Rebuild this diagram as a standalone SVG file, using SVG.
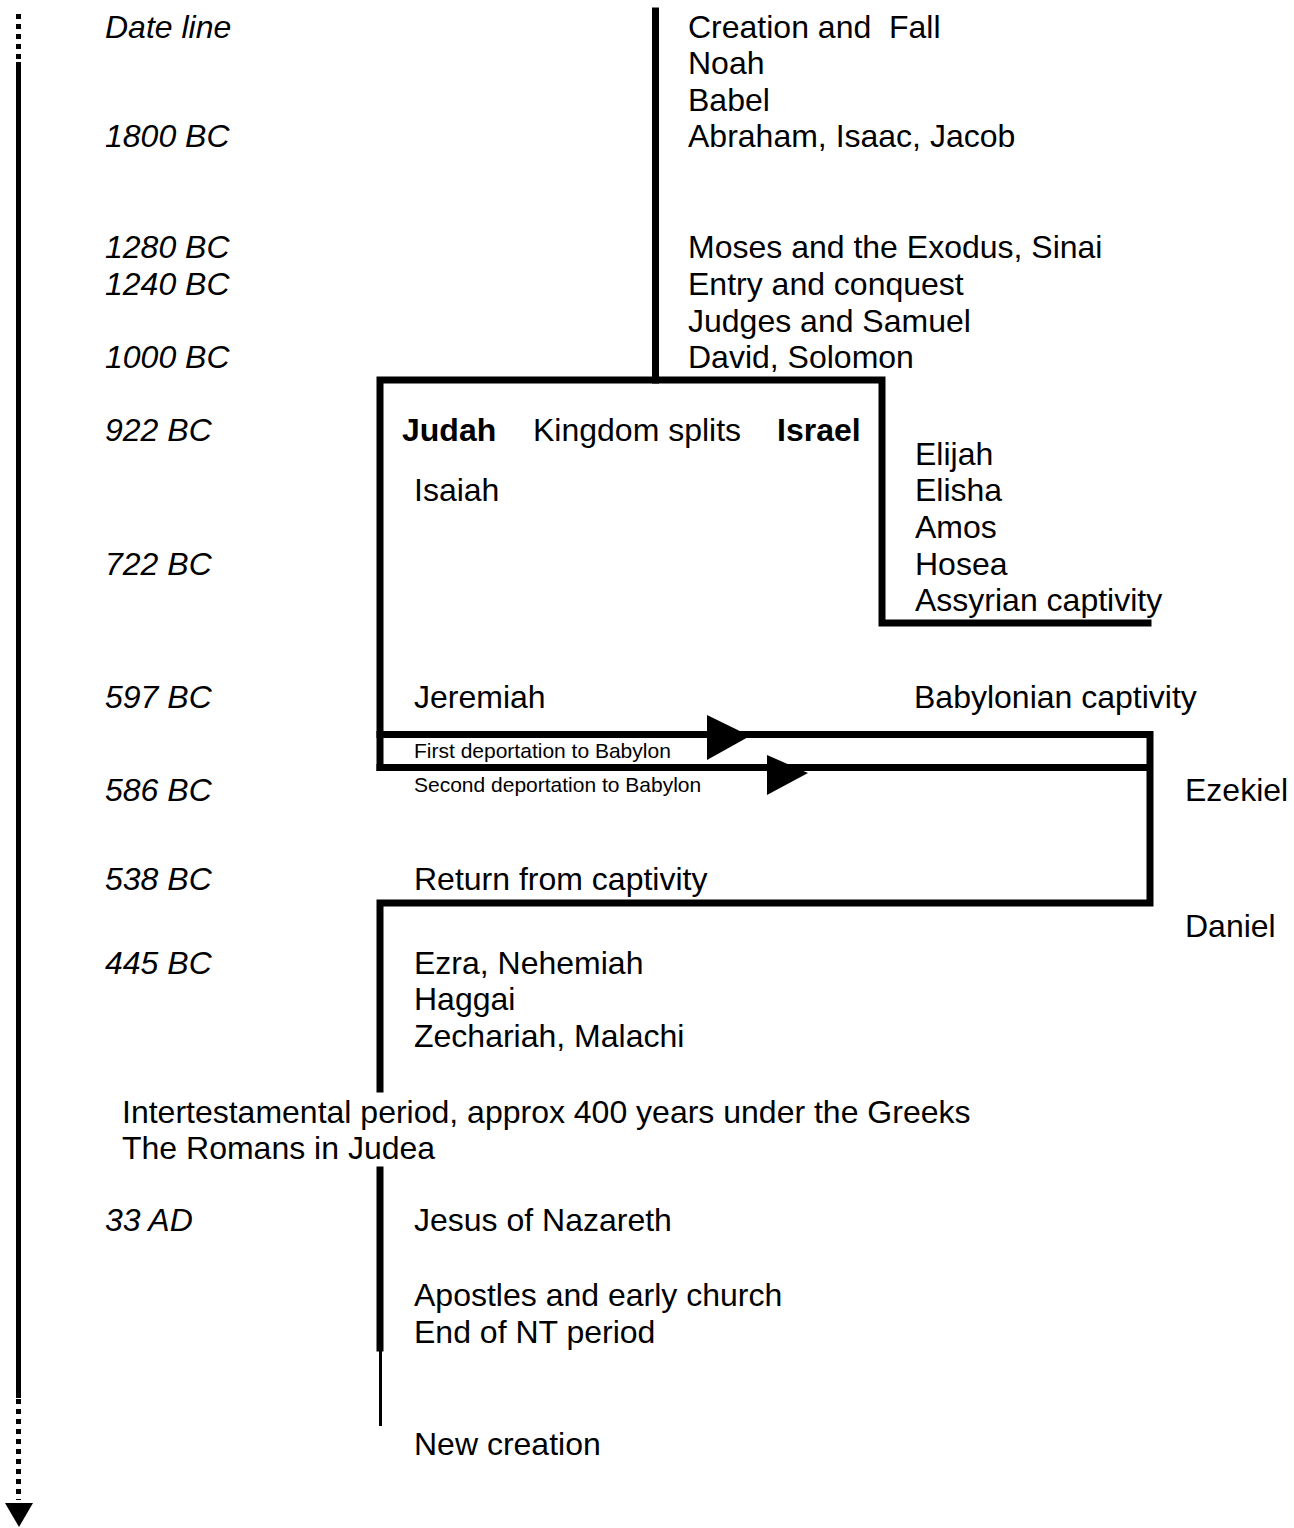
<svg xmlns="http://www.w3.org/2000/svg" width="1294" height="1528" viewBox="0 0 1294 1528">
<style>
text{font-family:"Liberation Sans",Arial,sans-serif;font-size:32px;fill:#000;white-space:pre}
.d{font-style:italic}
.b{font-weight:bold}
.s{font-size:21px}
.ln{fill:none;stroke:#000;stroke-width:7;stroke-linecap:square;stroke-linejoin:miter}
</style>
<rect width="1294" height="1528" fill="#fff"/>
<g id="connectors">
<line x1="18.5" y1="14" x2="18.5" y2="62" stroke="#000" stroke-width="5" stroke-dasharray="5 5"/>
<line x1="18.5" y1="62" x2="18.5" y2="1398" stroke="#000" stroke-width="5"/>
<line x1="18.5" y1="1399" x2="18.5" y2="1500" stroke="#000" stroke-width="5" stroke-dasharray="5 5"/>
<polygon points="5,1503 33,1503 19,1527" fill="#000"/>
<path class="ln" d="M655.5 11V380"/>
<path class="ln" d="M380 767.5V380H882V623H1148"/>
<path class="ln" d="M380 734.5H1150V903H380V1089"/>
<path class="ln" d="M380 767.5H1146"/>
<polygon points="707,715 750,736 707,760" fill="#000"/>
<polygon points="767,755 808,773 767,795" fill="#000"/>
<path class="ln" d="M380 1170V1348"/>
<line x1="380.5" y1="1348" x2="380.5" y2="1426" stroke="#000" stroke-width="3"/>
</g>
<g id="dates">
<text class="d" x="105" y="38">Date line</text>
<text class="d" x="105" y="147">1800 BC</text>
<text class="d" x="105" y="258">1280 BC</text>
<text class="d" x="105" y="295">1240 BC</text>
<text class="d" x="105" y="368">1000 BC</text>
<text class="d" x="105" y="441">922 BC</text>
<text class="d" x="105" y="575">722 BC</text>
<text class="d" x="105" y="708">597 BC</text>
<text class="d" x="105" y="801">586 BC</text>
<text class="d" x="105" y="890">538 BC</text>
<text class="d" x="105" y="974">445 BC</text>
<text class="d" x="105" y="1231">33 AD</text>
</g>
<g id="early">
<text x="688" y="38">Creation and  Fall</text>
<text x="688" y="74">Noah</text>
<text x="688" y="111">Babel</text>
<text x="688" y="147">Abraham, Isaac, Jacob</text>
<text x="688" y="258">Moses and the Exodus, Sinai</text>
<text x="688" y="295">Entry and conquest</text>
<text x="688" y="332">Judges and Samuel</text>
<text x="688" y="368">David, Solomon</text>
</g>
<g id="split">
<text class="b" x="402" y="441">Judah</text>
<text x="533" y="441">Kingdom splits</text>
<text class="b" x="777" y="441">Israel</text>
</g>
<g id="judah">
<text x="414" y="501">Isaiah</text>
<text x="414" y="708">Jeremiah</text>
</g>
<g id="israel">
<text x="915" y="465">Elijah</text>
<text x="915" y="501">Elisha</text>
<text x="915" y="538">Amos</text>
<text x="915" y="575">Hosea</text>
<text x="915" y="611">Assyrian captivity</text>
</g>
<g id="babylon">
<text x="914" y="708">Babylonian captivity</text>
<text class="s" x="414" y="758">First deportation to Babylon</text>
<text class="s" x="414" y="792">Second deportation to Babylon</text>
<text x="1185" y="801">Ezekiel</text>
<text x="1185" y="937">Daniel</text>
</g>
<g id="return">
<text x="414" y="890">Return from captivity</text>
<text x="414" y="974">Ezra, Nehemiah</text>
<text x="414" y="1010">Haggai</text>
<text x="414" y="1047">Zechariah, Malachi</text>
</g>
<g id="intertestamental">
<text x="122" y="1123">Intertestamental period, approx 400 years under the Greeks</text>
<text x="122" y="1159">The Romans in Judea</text>
</g>
<g id="nt">
<text x="414" y="1231">Jesus of Nazareth</text>
<text x="414" y="1306">Apostles and early church</text>
<text x="414" y="1343">End of NT period</text>
<text x="414" y="1455">New creation</text>
</g>
</svg>
